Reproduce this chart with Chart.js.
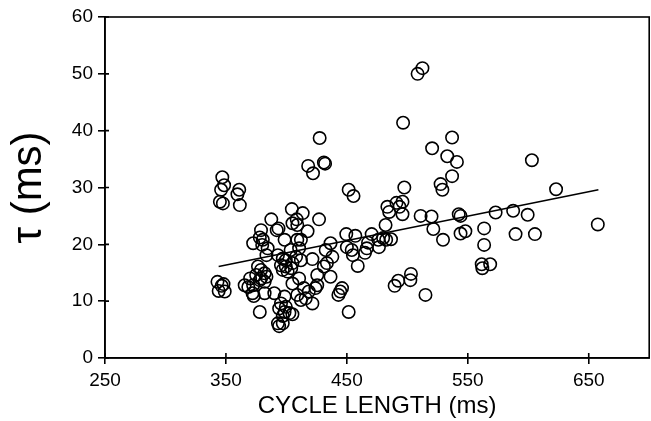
<!DOCTYPE html>
<html>
<head>
<meta charset="utf-8">
<script src="https://cdn.jsdelivr.net/npm/chart.js@4"></script>
<style>
  html, body { margin: 0; padding: 0; background: #fff; overflow: hidden; }
  canvas { display: block; }
</style>
</head>
<body>
<canvas id="tauChart" width="657" height="421"></canvas>
<script>
const cycleLength = [
  347, 348.5, 346, 345, 347.5, 361, 359.5, 361.5, 343, 348, 344, 349, 346.5,
  404.5, 408.5, 405, 409, 387.5, 393.5, 392, 379, 378, 380.5, 380, 372.5, 398.5, 409,
  384.5, 383.5, 393, 397, 399.5, 395.5, 399.5, 404, 397, 401, 405, 408,
  376.5, 379, 375, 382, 379, 383.5, 378, 382, 370, 372.5, 368.5, 365.5, 372, 373,
  382, 390, 398.5, 395.5, 399.5, 394, 398.5, 402.5, 405, 397, 378, 393, 397, 394,
  403.5, 410.5, 405, 410.5, 409, 412,
  418, 422, 431, 432, 427.5, 451.5, 455.5, 427, 413.5, 417.5, 412, 449.5, 457,
  450, 454, 455, 436.5, 432.5, 438, 433.5, 431, 421.5, 412, 425.5, 436.5, 459,
  414.5, 418.5, 416, 421.5, 425.5, 424, 446, 444.5, 443, 451.5,
  470.5, 467.5, 476, 480, 482.5, 466.5, 465, 476.5, 483.5, 485, 482, 491, 496,
  493.5, 496, 497.5, 496.5, 486.5, 489.5, 492.5, 502.5, 503, 515, 512.5, 508.5,
  511, 520, 521.5, 529.5, 544, 548, 542.5, 544, 520.5, 537, 533, 541, 537, 527.5, 529,
  573, 587.5, 599.5, 603, 623, 657.5, 563.5, 589.5, 605.5, 563.5, 561.5, 568.5, 562
];
// tau (ms) for the same measurements
const tauMs = [
  31.8, 30.4, 29.6, 27.5, 27.2, 29.6, 28.8, 26.9, 13.4, 13.0, 11.8, 11.7, 12.7,
  26.2, 24.4, 23.7, 23.4, 24.4, 22.8, 22.5, 22.5, 21.2, 20.8, 19.9, 20.2, 20.8, 20.8,
  19.3, 18.1, 18.1, 17.5, 17.2, 16.3, 16.1, 15.8, 15.5, 15.2, 16.7, 17.8,
  16.1, 15.5, 14.6, 14.9, 14.0, 14.3, 13.7, 13.4, 14.0, 12.8, 12.5, 12.8, 11.4, 10.9,
  11.4, 11.4, 10.8, 9.6, 9.0, 8.7, 8.1, 7.9, 7.7, 7.4, 8.1, 6.1, 6.1, 5.6,
  19.0, 19.3, 13.1, 14.0, 11.1, 10.2,
  33.8, 32.5, 34.4, 34.2, 38.7, 29.6, 28.5, 24.4, 25.5, 22.3, 20.8, 21.8, 21.5,
  19.5, 19.0, 18.1, 20.2, 19.0, 17.8, 16.7, 16.1, 17.4, 17.2, 14.6, 14.3, 16.2,
  12.3, 11.7, 10.5, 9.6, 12.8, 12.3, 12.3, 11.7, 11.1, 8.1,
  21.8, 20.3, 20.8, 21.1, 20.8, 19.3, 18.5, 19.5, 26.6, 25.7, 23.4, 27.3, 27.5,
  26.6, 25.3, 30.0, 41.4, 20.9, 12.7, 13.6, 13.7, 14.8, 11.1, 51.0, 50.0,
  25.0, 24.9, 22.7, 20.8, 21.9, 22.3, 25.3, 25.0, 36.9, 38.8, 35.5, 34.5, 32.0, 30.6, 29.6,
  25.6, 25.9, 25.2, 34.8, 29.7, 23.5, 22.8, 21.8, 21.8, 19.9, 16.5, 16.5, 15.8
];
// regression line end points
const fitX = [344, 658];
const fitY = [16.1, 29.6];

const xTicks = [250, 350, 450, 550, 650];
const yTicks = [0, 10, 20, 30, 40, 50, 60];

const FONT = "'Liberation Sans', Arial, Helvetica, sans-serif";

// box round the plot plus the short inward half of each tick
const frame = {
  id: 'frame',
  afterDraw(chart) {
    const { ctx, chartArea: a, scales } = chart;
    ctx.save();
    ctx.strokeStyle = '#000';
    ctx.lineWidth = 1.6;
    ctx.strokeRect(a.left, a.top, a.right - a.left, a.bottom - a.top);
    ctx.beginPath();
    xTicks.forEach(v => {
      const px = scales.x.getPixelForValue(v);
      ctx.moveTo(px, a.bottom);
      ctx.lineTo(px, a.bottom - 5);
    });
    yTicks.forEach(v => {
      const py = scales.y.getPixelForValue(v);
      ctx.moveTo(a.left, py);
      ctx.lineTo(a.left + 4, py);
    });
    ctx.stroke();
    ctx.restore();
  }
};

new Chart(document.getElementById('tauChart').getContext('2d'), {
  type: 'scatter',
  data: {
    datasets: [
      {
        data: cycleLength.map((x, i) => ({ x, y: tauMs[i] })),
        pointStyle: 'circle',
        pointRadius: 6.2,
        borderColor: '#000',
        borderWidth: 1.6,
        backgroundColor: 'rgba(0,0,0,0)',
      },
      {
        type: 'line',
        data: fitX.map((x, i) => ({ x, y: fitY[i] })),
        borderColor: '#000',
        borderWidth: 1.6,
        pointRadius: 0,
        fill: false,
      },
    ],
  },
  options: {
    responsive: false,
    animation: false,
    layout: { padding: { top: 17, right: 1, left: 0, bottom: 0 } },
    plugins: {
      legend: { display: false },
      tooltip: { enabled: false },
    },
    scales: {
      x: {
        type: 'linear',
        min: 250,
        max: 700,
        afterBuildTicks: axis => { axis.ticks = xTicks.map(v => ({ value: v })); },
        afterFit: axis => {
          axis.height = 63;
          axis.paddingLeft = 0;
          axis.paddingRight = 0;
        },
        border: { color: '#000', width: 1.6 },
        grid: { drawOnChartArea: false, color: '#000', tickLength: 6, lineWidth: 1.6 },
        ticks: { color: '#000', padding: 5, maxRotation: 0, font: { family: FONT, size: 19 } },
        title: {
          display: true,
          text: 'CYCLE LENGTH (ms)',
          color: '#000',
          padding: { top: 0, bottom: 0 },
          font: { family: FONT, size: 24 },
        },
      },
      y: {
        min: 0,
        max: 60,
        afterBuildTicks: axis => { axis.ticks = yTicks.map(v => ({ value: v })); },
        afterFit: axis => {
          axis.width = 105;
          axis.paddingTop = 0;
          axis.paddingBottom = 0;
        },
        border: { color: '#000', width: 1.6 },
        grid: { drawOnChartArea: false, color: '#000', tickLength: 7, lineWidth: 1.6 },
        ticks: { color: '#000', padding: 5, font: { family: FONT, size: 19 } },
        title: {
          display: true,
          text: 'τ (ms)',
          color: '#000',
          padding: { top: 4, bottom: 0 },
          font: { family: FONT, size: 42 },
        },
      },
    },
  },
  plugins: [frame],
});
</script>
</body>
</html>
